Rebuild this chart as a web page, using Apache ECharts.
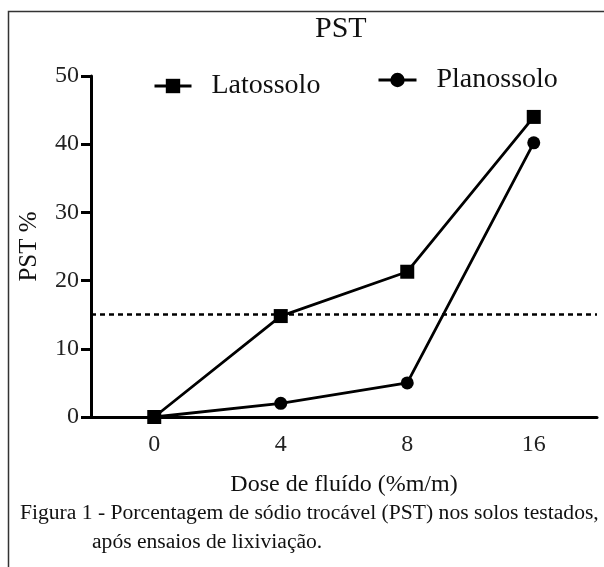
<!DOCTYPE html>
<html>
<head>
<meta charset="utf-8">
<script src="https://cdn.jsdelivr.net/npm/echarts@6/dist/echarts.min.js"></script>
<style>
html,body{margin:0;padding:0;background:#fff;}
#chart{width:604px;height:567px;}
</style>
</head>
<body>
<div id="chart"></div>
<script>
var categories = ['0', '4', '8', '16'];
var latossolo = [0, 14.8, 21.3, 44.0];
var planossolo = [0, 2.0, 5.0, 40.2];
var yTicks = [0, 10, 20, 30, 40, 50];
var threshold = 15;
var titleText = 'PST';
var xName = 'Dose de fluído (%m/m)';
var yName = 'PST %';
var captionLine1 = 'Figura 1 - Porcentagem de sódio trocável (PST) nos solos testados,';
var captionLine2 = 'após ensaios de lixiviação.';

var serif = '"Liberation Serif", "Times New Roman", serif';
var chart = echarts.init(document.getElementById('chart'), null, {renderer: 'canvas'});

var option = {
  animation: false,
  backgroundColor: '#fff',
  title: {
    text: titleText,
    left: 315,
    top: 14,
    padding: 0,
    textStyle: {fontFamily: serif, fontSize: 30, fontWeight: 'normal', color: '#111'}
  },
  legend: [
    {
      data: ['Latossolo'],
      left: 153, top: 72, padding: 0,
      itemWidth: 37, itemHeight: 18,
      lineStyle: {width: 3},
      textStyle: {fontFamily: serif, fontSize: 28, color: '#111', padding: [0, 0, 0, 15]}
    },
    {
      data: ['Planossolo'],
      left: 377, top: 66, padding: 0,
      itemWidth: 38, itemHeight: 18,
      lineStyle: {width: 3},
      textStyle: {fontFamily: serif, fontSize: 28, color: '#111', padding: [0, 0, 0, 15]}
    }
  ],
  grid: {left: 91, right: 7, top: 76, bottom: 150, containLabel: false},
  xAxis: {
    type: 'category',
    data: categories,
    boundaryGap: true,
    name: xName,
    nameLocation: 'middle',
    nameGap: 56,
    nameTextStyle: {fontFamily: serif, fontSize: 24, color: '#111'},
    axisLine: {lineStyle: {color: '#000', width: 3}},
    axisTick: {alignWithLabel: true, length: 10, lineStyle: {color: '#000', width: 3}},
    axisLabel: {fontFamily: serif, fontSize: 24, color: '#222', margin: 16},
    splitLine: {show: false}
  },
  yAxis: {
    type: 'value',
    min: yTicks[0],
    max: yTicks[yTicks.length - 1],
    interval: 10,
    name: yName,
    nameLocation: 'middle',
    nameGap: 49,
    nameTextStyle: {fontFamily: serif, fontSize: 25, color: '#111'},
    axisLine: {show: true, lineStyle: {color: '#000', width: 3}},
    axisTick: {show: true, length: 10, lineStyle: {color: '#000', width: 3}},
    axisLabel: {fontFamily: serif, fontSize: 24, color: '#222', margin: 12},
    splitLine: {show: false}
  },
  series: [
    {
      name: 'Planossolo',
      type: 'line',
      data: planossolo,
      symbol: 'circle',
      symbolSize: 13,
      itemStyle: {color: '#000'},
      lineStyle: {color: '#000', width: 2.8},
      z: 3
    },
    {
      name: 'Latossolo',
      type: 'line',
      data: latossolo,
      symbol: 'rect',
      symbolSize: 14,
      itemStyle: {color: '#000'},
      lineStyle: {color: '#000', width: 2.8},
      z: 4,
      markLine: {
        silent: true,
        symbol: ['none', 'none'],
        label: {show: false},
        lineStyle: {color: '#000', width: 2.5, type: [5, 4]},
        data: [{yAxis: threshold}]
      }
    }
  ],
  graphic: [
    {
      type: 'rect',
      shape: {x: 8.5, y: 11.5, width: 640, height: 640},
      style: {fill: 'none', stroke: '#333', lineWidth: 1.5},
      silent: true, z: 100
    },
    {
      type: 'text',
      left: 20, top: 502,
      style: {text: captionLine1, font: '21.6px ' + serif, fill: '#111'}
    },
    {
      type: 'text',
      left: 92, top: 531,
      style: {text: captionLine2, font: '21.6px ' + serif, fill: '#111'}
    }
  ]
};
chart.setOption(option);
</script>
</body>
</html>
